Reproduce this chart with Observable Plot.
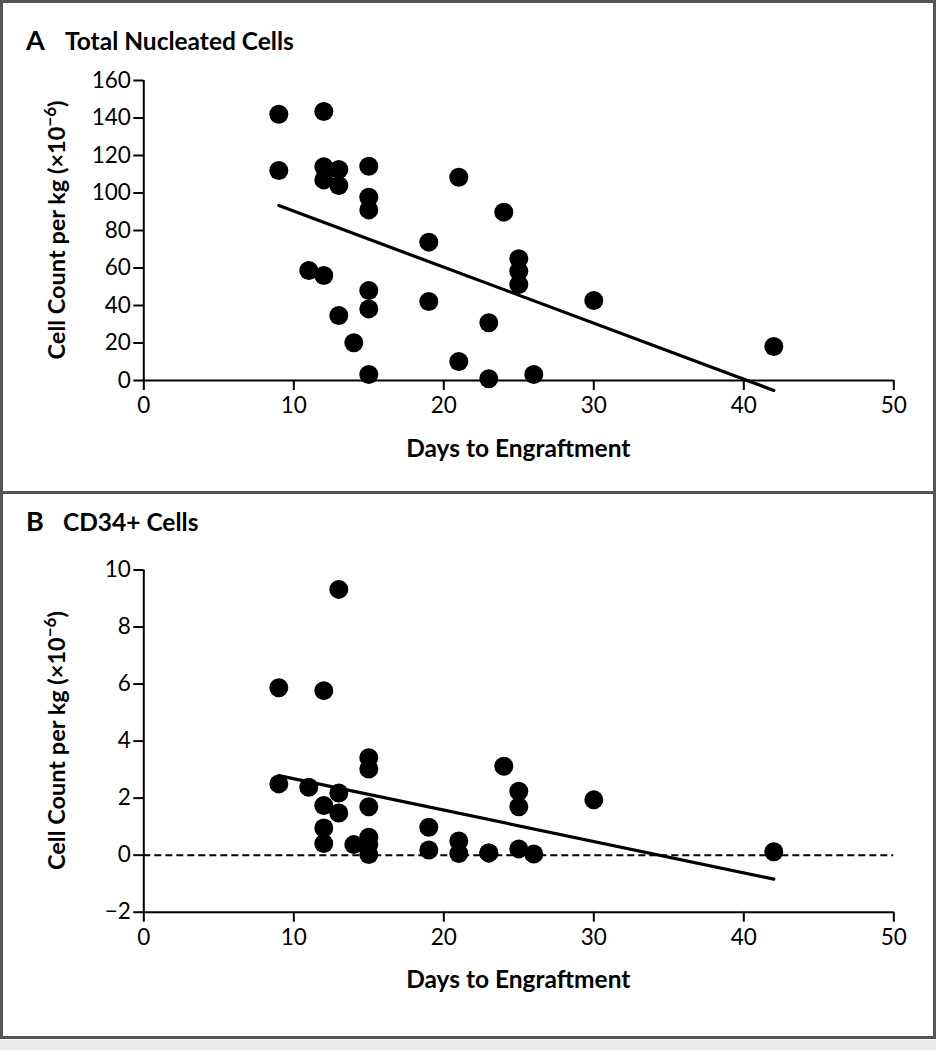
<!DOCTYPE html>
<html><head><meta charset="utf-8">
<script src="https://cdn.jsdelivr.net/npm/d3@7"></script>
<script src="https://cdn.jsdelivr.net/npm/@observablehq/plot@0.6"></script>
<style>
body{margin:0;background:#fff}
#page{position:relative;width:936px;height:1050px;background:#fff;overflow:hidden}
#page > *{position:absolute}
</style></head><body>
<div id="page"></div>
<script>
// ---- data ----
const xTicks = [0, 10, 20, 30, 40, 50];
const yTicksA = [0, 20, 40, 60, 80, 100, 120, 140, 160];
const yTicksB = [-2, 0, 2, 4, 6, 8, 10];

const daysA = [9, 9, 12, 12, 13, 12, 13, 15, 15, 15, 21, 24, 19, 25, 25, 25, 30, 11, 12, 15, 15, 13, 14, 19, 23, 21, 15, 23, 26, 42];
const nucleatedA = [142, 112, 143.5, 114, 112.5, 107, 104, 114.3, 97.8, 91, 108.4, 89.8, 73.8, 64.9, 58.3, 51.2, 42.7, 58.7, 56, 48, 38.2, 34.7, 20.1, 42.1, 30.8, 10.1, 3.2, 0.9, 3.2, 18.1];

const daysB = [13, 9, 12, 15, 15, 24, 9, 11, 13, 25, 30, 12, 15, 25, 13, 12, 19, 12, 14, 15, 15, 15, 19, 21, 21, 23, 23, 25, 26, 42];
const cd34B = [9.32, 5.87, 5.77, 3.42, 3.02, 3.12, 2.5, 2.38, 2.18, 2.24, 1.94, 1.74, 1.7, 1.7, 1.48, 0.95, 0.98, 0.41, 0.37, 0.63, 0.37, 0.02, 0.18, 0.5, 0.06, 0.08, 0.08, 0.22, 0.04, 0.12];

const fitDays = [9, 42];
const fitA = [93.3, -5.3];
const fitB = [2.79, -0.84];

// ---- layout ----
const page = document.getElementById("page");
const W = 936;
const FONT = "Lato, 'Open Sans', sans-serif";

function panel(days, vals, fit, yDomain, yTicks, height, mTop, mBottom, baseY, dashedZero) {
  const pts = days.map((d, i) => ({d, v: vals[i]}));
  const fitPts = fitDays.map((d, i) => ({d, v: fit[i]}));
  const marks = [];
  if (dashedZero) marks.push(Plot.ruleY([0], {stroke: "black", strokeWidth: 2, strokeDasharray: "7,4"}));
  marks.push(
    Plot.ruleY([baseY], {stroke: "black", strokeWidth: 2}),
    Plot.ruleX([0], {stroke: "black", strokeWidth: 2}),
    Plot.axisX({ticks: xTicks, tickSize: 10, tickPadding: 7, strokeWidth: 2, label: null, tickFormat: d3.format("d")}),
    Plot.axisY({ticks: yTicks, tickSize: 10, tickPadding: 3, strokeWidth: 2, label: null}),
    Plot.line(fitPts, {x: "d", y: "v", stroke: "black", strokeWidth: 3.2}),
    Plot.dot(pts, {x: "d", y: "v", r: 9.5, fill: "black", stroke: null})
  );
  return Plot.plot({
    width: W, height,
    marginLeft: 143.3, marginRight: 42.7, marginTop: mTop, marginBottom: mBottom,
    style: {fontFamily: FONT, fontSize: "22.5px", background: "transparent", color: "black", overflow: "visible"},
    x: {domain: [0, 50]},
    y: {domain: yDomain},
    marks
  });
}

const pA = panel(daysA, nucleatedA, fitA, [0, 160], yTicksA, 490, 80, 110, 0, false);
pA.style.left = "0px"; pA.style.top = "0px";
page.appendChild(pA);

const pB = panel(daysB, cd34B, fitB, [-2, 10], yTicksB, 549, 79.5, 127.3, -2, true);
pB.style.left = "0px"; pB.style.top = "490px";
page.appendChild(pB);

// frame
function box(css) { const d = document.createElement("div"); d.style.cssText = "position:absolute;" + css; page.appendChild(d); return d; }
box("left:0;top:0;width:936px;height:1039px;box-sizing:border-box;border:3px solid #555;");
box("left:0;top:491px;width:936px;height:3px;background:#555;");
box("left:0;top:1039px;width:936px;height:11px;background:#ebebeb;border-top:1px solid #fafafa;box-sizing:border-box;");

// titles and axis labels (real text)
const svg = d3.create("svg").attr("width", W).attr("height", 1050)
  .style("position", "absolute").style("left", 0).style("top", 0)
  .style("font-family", FONT).style("font-weight", "bold");
page.appendChild(svg.node());

function title(letter, text, y, x2) {
  svg.append("text").attr("x", 26).attr("y", y).attr("font-size", 27).text(letter);
  svg.append("text").attr("x", x2).attr("y", y).attr("font-size", 24.5).text(text);
}
title("A", "Total Nucleated Cells", 50, 65);
title("B", "CD34+ Cells", 530.5, 63);

function xLabel(y) {
  svg.append("text").attr("x", 518.3).attr("y", y).attr("text-anchor", "middle")
    .attr("font-size", 24.5).text("Days to Engraftment");
}
xLabel(457); xLabel(988);

function yLabel(cy) {
  const t = svg.append("text").attr("transform", `translate(65,${cy}) rotate(-90)`)
    .attr("text-anchor", "middle").attr("font-size", 23.5);
  t.append("tspan").text("Cell Count per kg (×10");
  t.append("tspan").attr("dy", -9).attr("font-size", 17).text("−6");
  t.append("tspan").attr("dy", 9).text(")");
}
yLabel(230); yLabel(740.6);
</script>
</body></html>
